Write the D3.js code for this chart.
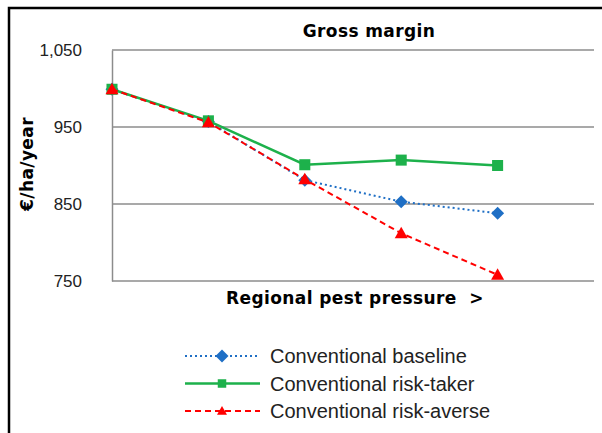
<!DOCTYPE html>
<html>
<head>
<meta charset="utf-8">
<script src="https://cdn.jsdelivr.net/npm/d3@7"></script>
<style>
  body { margin: 0; background: #fff; }
  svg { font-family: "Liberation Sans", Arial, sans-serif; }
</style>
</head>
<body>
<svg id="chart_svg" width="602" height="433"></svg>
<script>
// Data
var steps = [0, 1, 2, 3, 4];
var baseline = [999, 957, 881, 853, 838];
var riskTaker = [999, 958, 901, 907, 900];
var riskAverse = [999, 956, 882, 812, 758];
var yTicks = [750, 850, 950, 1050];

var series = [
    { name: "Conventional baseline", values: baseline, color: "#1f6fc5", dash: "2,3", width: 2, marker: "diamond" },
    { name: "Conventional risk-taker", values: riskTaker, color: "#1db14b", dash: null, width: 2.5, marker: "square" },
    { name: "Conventional risk-averse", values: riskAverse, color: "#ff0000", dash: "6,4", width: 2, marker: "triangle" }
];

var svg = d3.select("#chart_svg");

// Outer frame (clipped at right/bottom)
svg.append("path")
    .attr("d", "M9,440 L9,8 L610,8")
    .attr("fill", "none")
    .attr("stroke", "#000")
    .attr("stroke-width", 2.5);

// Scales
var xScale = d3.scaleLinear().domain([0, 5]).range([112, 594]);
var yScale = d3.scaleLinear().domain([750, 1050]).range([281, 50]);

// Grid lines
svg.append("g")
    .selectAll("line")
    .data(yTicks)
    .enter()
    .append("line")
    .attr("x1", xScale(0))
    .attr("x2", xScale(5))
    .attr("y1", d => yScale(d))
    .attr("y2", d => yScale(d))
    .attr("stroke", "#8c8c8c")
    .attr("stroke-width", 1.5);

// Y axis
var yAxis = svg.append("g")
    .attr("transform", `translate(${xScale(0)},0)`)
    .call(d3.axisLeft(yScale).tickValues(yTicks).tickSize(0).tickPadding(30).tickFormat(d3.format(",")));
yAxis.select(".domain").attr("stroke", "#8c8c8c").attr("stroke-width", 1.5);
yAxis.selectAll("text")
    .attr("font-size", 17)
    .attr("fill", "#222")
    .attr("font-family", "'Liberation Sans', Arial, sans-serif");

// Titles
var boldFont = "'DejaVu Sans', Verdana, sans-serif";
svg.append("text")
    .attr("x", 369).attr("y", 37)
    .attr("text-anchor", "middle")
    .attr("font-family", boldFont)
    .attr("font-size", 17).attr("font-weight", "bold")
    .style("letter-spacing", "0.4px")
    .text("Gross margin");

svg.append("text")
    .attr("transform", "translate(33,164) rotate(-90)")
    .attr("text-anchor", "middle")
    .attr("font-family", boldFont)
    .attr("font-size", 17).attr("font-weight", "bold")
    .style("letter-spacing", "0.4px")
    .text("€/ha/year");

svg.append("text")
    .attr("x", 355).attr("y", 304)
    .attr("text-anchor", "middle")
    .attr("font-family", boldFont)
    .attr("font-size", 17).attr("font-weight", "bold")
    .style("letter-spacing", "0.4px")
    .attr("xml:space", "preserve")
    .text("Regional pest pressure  >");

// Markers
function markerPath(type, r) {
    if (type === "diamond") return `M0,${-r}L${r},0L0,${r}L${-r},0Z`;
    if (type === "square") return `M${-r * 0.85},${-r * 0.85}h${r * 1.7}v${r * 1.7}h${-r * 1.7}Z`;
    return `M0,${-r}L${r},${r * 0.75}L${-r},${r * 0.75}Z`;
}

var line = d3.line()
    .x((d, i) => xScale(steps[i]))
    .y(d => yScale(d));

series.forEach(function(s) {
    var g = svg.append("g");
    g.append("path")
        .datum(s.values)
        .attr("fill", "none")
        .attr("stroke", s.color)
        .attr("stroke-width", s.width)
        .attr("stroke-dasharray", s.dash)
        .attr("d", line);
    g.selectAll(".pt")
        .data(s.values)
        .enter()
        .append("path")
        .attr("transform", (d, i) => `translate(${xScale(steps[i])},${yScale(d)})`)
        .attr("d", markerPath(s.marker, 6.5))
        .attr("fill", s.color);
});

// Legend
var legend = svg.append("g");
series.forEach(function(s, i) {
    var y = 356 + i * 27.5;
    legend.append("line")
        .attr("x1", 185).attr("x2", 260)
        .attr("y1", y).attr("y2", y)
        .attr("stroke", s.color)
        .attr("stroke-width", s.width)
        .attr("stroke-dasharray", s.dash);
    legend.append("path")
        .attr("transform", `translate(222,${y})`)
        .attr("d", markerPath(s.marker, s.marker === "diamond" ? 6.5 : 5))
        .attr("fill", s.color);
    legend.append("text")
        .attr("x", 270).attr("y", y + 7)
        .attr("font-size", 20)
        .attr("fill", "#222")
        .text(s.name);
});
</script>
</body>
</html>
